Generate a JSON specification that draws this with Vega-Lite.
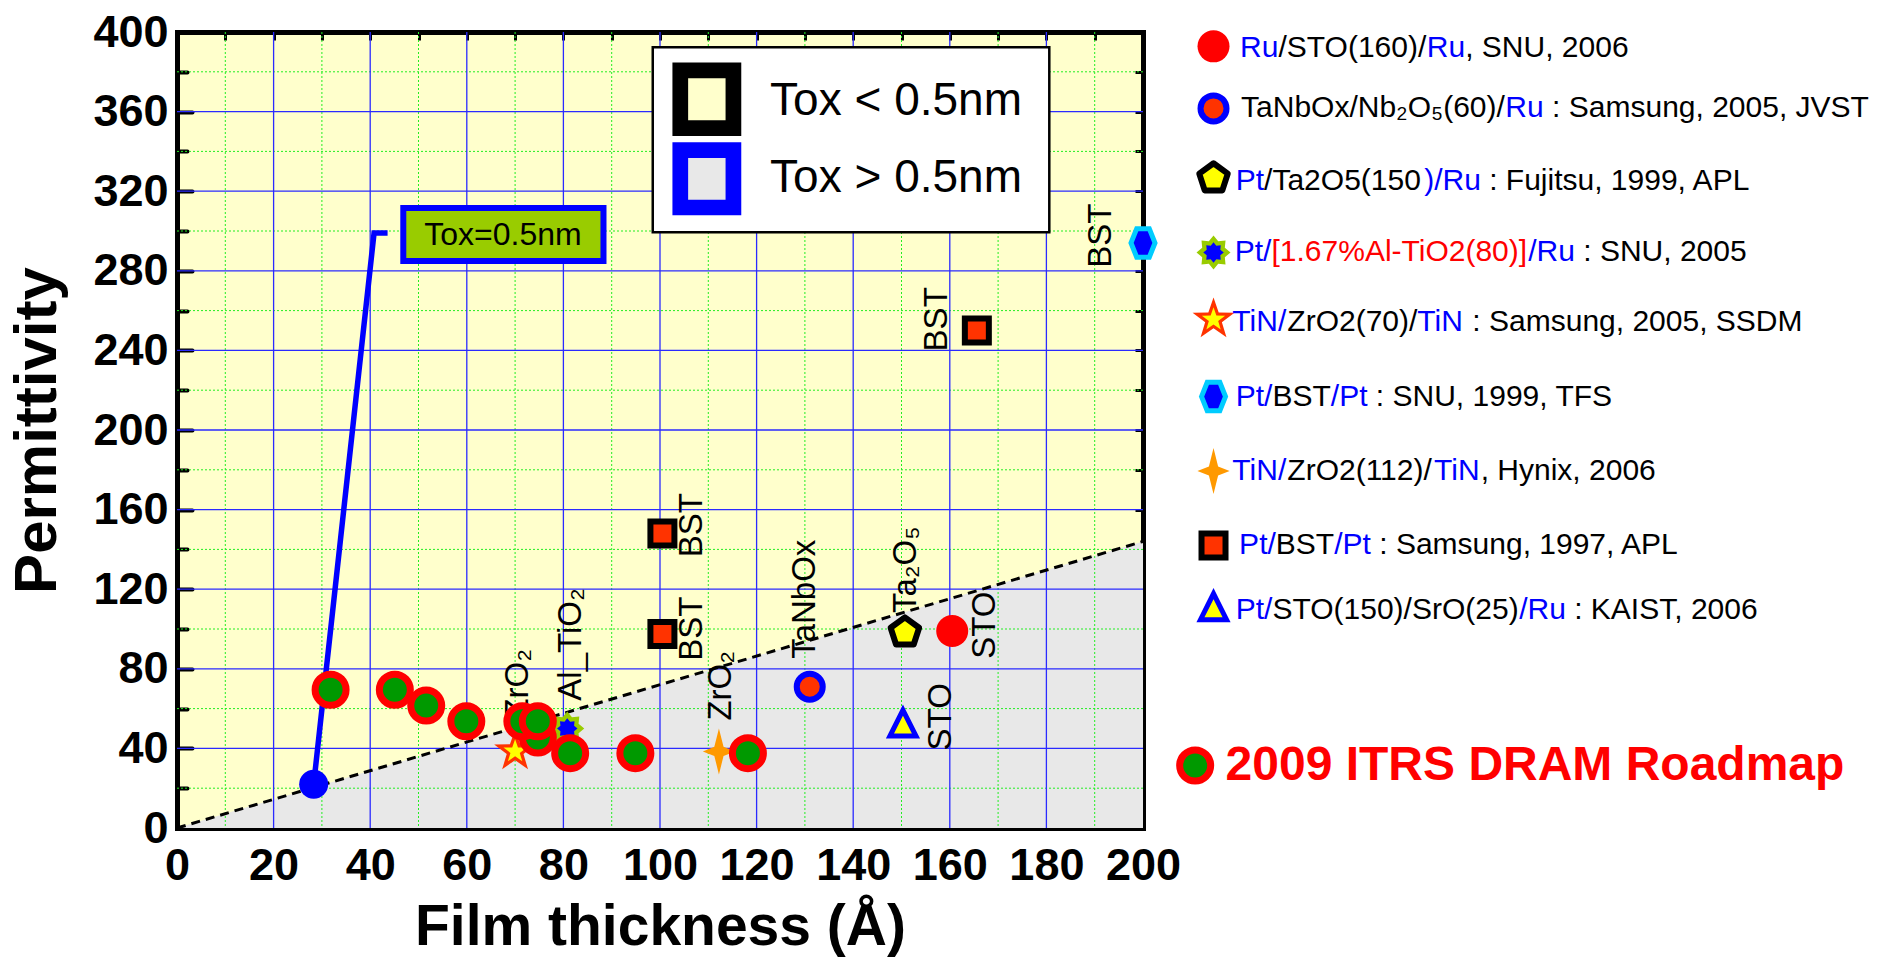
{
  "$schema": "https://vega.github.io/schema/vega-lite/v6.json",
  "width": 966,
  "height": 796,
  "autosize": {"type": "none"},
  "padding": {"left": 177, "top": 32, "right": 737, "bottom": 138},
  "background": "#FFFFFF",
  "config": {"view": {"fill": "#FFFFCC", "stroke": null}, "axis": {"grid": false}},
  "resolve": {"axis": {"x": "independent", "y": "independent"}},
  "datasets": {
    "boundary": [{"x": 0, "y": 0}, {"x": 200, "y": 144}],
    "grid_vmaj": [{"x": 20}, {"x": 40}, {"x": 60}, {"x": 80}, {"x": 100}, {"x": 120}, {"x": 140}, {"x": 160}, {"x": 180}],
    "grid_vmin": [{"x": 10}, {"x": 30}, {"x": 50}, {"x": 70}, {"x": 90}, {"x": 110}, {"x": 130}, {"x": 150}, {"x": 170}, {"x": 190}],
    "grid_hmaj": [{"y": 40}, {"y": 80}, {"y": 120}, {"y": 160}, {"y": 200}, {"y": 240}, {"y": 280}, {"y": 320}, {"y": 360}],
    "grid_hmin": [{"y": 20}, {"y": 60}, {"y": 100}, {"y": 140}, {"y": 180}, {"y": 220}, {"y": 260}, {"y": 300}, {"y": 340}, {"y": 380}],
    "toxline": [{"x": 28.3, "y": 22, "o": 1}, {"x": 40.8, "y": 299, "o": 2}, {"x": 43.6, "y": 299, "o": 3}],
    "toxbox": [{"x": 46.85, "x2": 88.3, "y": 284.9, "y2": 311.6, "tx": 67.5, "ty": 298.2, "t": "Tox=0.5nm"}],
    "keybox": [{"x": 98.5, "x2": 180.6, "y": 299.4, "y2": 392.3}],
    "keys": [
      {"k": "lt", "x": 104.2, "x2": 115.2, "y": 351.7, "y2": 380.7, "tx": 122.8, "ty": 365.2, "t": "Tox < 0.5nm"},
      {"k": "gt", "x": 104.2, "x2": 115.2, "y": 311.8, "y2": 340.6, "tx": 122.8, "ty": 326.6, "t": "Tox > 0.5nm"}
    ],
    "pts": [
      {"s": "bst_sam", "x": 100.5, "y": 148},
      {"s": "bst_sam", "x": 100.5, "y": 97.5},
      {"s": "bst_sam", "x": 165.6, "y": 250},
      {"s": "bst_sam", "x": 214.6, "y": 142},
      {"s": "bst_snu", "x": 200, "y": 294},
      {"s": "bst_snu", "x": 214.6, "y": 216.8},
      {"s": "ta2o5", "x": 150.7, "y": 98.3},
      {"s": "ta2o5", "x": 214.6, "y": 326.5},
      {"s": "sto_kaist", "x": 150.3, "y": 52},
      {"s": "sto_kaist", "x": 214.6, "y": 110.5},
      {"s": "tanbox", "x": 131, "y": 71},
      {"s": "tanbox", "x": 214.6, "y": 361.6},
      {"s": "ru_sto", "x": 160.5, "y": 99},
      {"s": "ru_sto", "x": 214.6, "y": 392.8},
      {"s": "zro2_112", "x": 112.2, "y": 38.5},
      {"s": "zro2_112", "x": 214.6, "y": 179.4},
      {"s": "zro2_70", "x": 70, "y": 38.5},
      {"s": "zro2_70", "x": 214.6, "y": 255.5},
      {"s": "altio2", "x": 80.8, "y": 50},
      {"s": "altio2", "x": 214.6, "y": 289.2},
      {"s": "blue_dot", "x": 28.3, "y": 22},
      {"s": "roadmap", "x": 31.8, "y": 69.5},
      {"s": "roadmap", "x": 45.1, "y": 69.5},
      {"s": "roadmap", "x": 51.6, "y": 61.5},
      {"s": "roadmap", "x": 59.9, "y": 53.6},
      {"s": "roadmap", "x": 74.7, "y": 45.5},
      {"s": "roadmap", "x": 71.5, "y": 53.6},
      {"s": "roadmap", "x": 74.7, "y": 53.6},
      {"s": "roadmap", "x": 81.4, "y": 37.6},
      {"s": "roadmap", "x": 94.9, "y": 37.6},
      {"s": "roadmap", "x": 118.2, "y": 37.6},
      {"s": "roadmap", "x": 210.8, "y": 31.4}
    ],
    "labels": [
      {"x": 70.7, "y": 55, "t": "ZrO₂"},
      {"x": 81.5, "y": 64, "t": "Al_TiO₂"},
      {"x": 112.6, "y": 54, "t": "ZrO₂"},
      {"x": 130, "y": 85, "t": "TaNbOx"},
      {"x": 151, "y": 108, "t": "Ta₂O₅"},
      {"x": 167.2, "y": 85, "t": "STO"},
      {"x": 158.2, "y": 39, "t": "STO"},
      {"x": 106.6, "y": 136, "t": "BST"},
      {"x": 106.6, "y": 84, "t": "BST"},
      {"x": 157.4, "y": 239.5, "t": "BST"},
      {"x": 191.3, "y": 281.5, "t": "BST"}
    ],
    "legtext": [
      {"x": 220.1, "y": 392.2, "t": "Ru", "c": "b"},
      {"x": 228.04, "y": 392.2, "t": "/STO(160)/", "c": "k"},
      {"x": 258.76, "y": 392.2, "t": "Ru", "c": "b"},
      {"x": 266.7, "y": 392.2, "t": ", SNU, 2006", "c": "k"},
      {"x": 220.3, "y": 361.6, "t": "TaNbOx/Nb₂O₅(60)/", "c": "k"},
      {"x": 275.0, "y": 361.6, "t": "Ru", "c": "b"},
      {"x": 284.7, "y": 361.6, "t": ": Samsung, 2005, JVST", "c": "k"},
      {"x": 219.2, "y": 324.9, "t": "Pt", "c": "b"},
      {"x": 225.07, "y": 324.9, "t": "/Ta2O5(150", "c": "k"},
      {"x": 258.21, "y": 324.9, "t": ")/Ru", "c": "b"},
      {"x": 271.67, "y": 324.9, "t": ": Fujitsu, 1999, APL", "c": "k"},
      {"x": 219.0, "y": 289.2, "t": "Pt/", "c": "b"},
      {"x": 226.6, "y": 289.2, "t": "[1.67%Al-TiO2(80)]", "c": "r"},
      {"x": 279.75, "y": 289.2, "t": "/Ru", "c": "b"},
      {"x": 291.14, "y": 289.2, "t": ": SNU, 2005", "c": "k"},
      {"x": 218.5, "y": 254.5, "t": "TiN/", "c": "b"},
      {"x": 229.88, "y": 254.5, "t": "ZrO2(70)/", "c": "k"},
      {"x": 256.8, "y": 254.5, "t": "TiN", "c": "b"},
      {"x": 268.19, "y": 254.5, "t": ": Samsung, 2005, SSDM", "c": "k"},
      {"x": 219.2, "y": 216.8, "t": "Pt/", "c": "b"},
      {"x": 226.8, "y": 216.8, "t": "BST", "c": "k"},
      {"x": 238.88, "y": 216.8, "t": "/Pt", "c": "b"},
      {"x": 248.21, "y": 216.8, "t": ": SNU, 1999, TFS", "c": "k"},
      {"x": 218.5, "y": 179.4, "t": "TiN/", "c": "b"},
      {"x": 229.88, "y": 179.4, "t": "ZrO2(112)/", "c": "k"},
      {"x": 260.25, "y": 179.4, "t": "TiN", "c": "b"},
      {"x": 269.91, "y": 179.4, "t": ", Hynix, 2006", "c": "k"},
      {"x": 219.9, "y": 142.0, "t": "Pt/", "c": "b"},
      {"x": 227.5, "y": 142.0, "t": "BST", "c": "k"},
      {"x": 239.58, "y": 142.0, "t": "/Pt", "c": "b"},
      {"x": 248.91, "y": 142.0, "t": ": Samsung, 1997, APL", "c": "k"},
      {"x": 219.2, "y": 109.3, "t": "Pt/", "c": "b"},
      {"x": 226.8, "y": 109.3, "t": "STO(150)/SrO(25)", "c": "k"},
      {"x": 277.88, "y": 109.3, "t": "/Ru", "c": "b"},
      {"x": 289.27, "y": 109.3, "t": ": KAIST, 2006", "c": "k"}
    ],
    "itrs": [{"x": 217.1, "y": 31.4, "t": "2009 ITRS DRAM Roadmap"}]
  },
  "layer": [
    {
      "data": {"name": "boundary"},
      "mark": {"type": "area", "fill": "#E8E8E8", "opacity": 1},
      "encoding": {
        "x": {"field": "x", "type": "quantitative", "scale": {"domain": [0, 200], "nice": false, "zero": false},
          "axis": {"orient": "bottom", "values": [10, 30, 50, 70, 90, 110, 130, 150, 170, 190], "labels": false, "ticks": true, "tickSize": -9, "tickWidth": 4, "tickColor": "#000000", "tickCap": "round", "domain": false, "title": null, "grid": false}},
        "y": {"field": "y", "type": "quantitative", "scale": {"domain": [0, 400], "nice": false, "zero": false}, "axis": null}
      }
    },
    {
      "data": {"name": "grid_vmin"},
      "mark": {"type": "rule", "stroke": "#22EE22", "strokeWidth": 1, "strokeDash": [2, 2]},
      "encoding": {
        "x": {"field": "x", "type": "quantitative", "scale": {"domain": [0, 200], "nice": false, "zero": false},
          "axis": {"orient": "top", "values": [0, 10, 20, 30, 40, 50, 60, 70, 80, 90, 100, 110, 120, 130, 140, 150, 160, 170, 180, 190, 200], "labels": false, "ticks": true, "tickSize": -8, "tickWidth": 3, "tickColor": "#000000", "domain": true, "domainColor": "#000000", "domainWidth": 5, "domainCap": "square", "title": null, "grid": false}}
      }
    },
    {
      "data": {"name": "grid_hmin"},
      "mark": {"type": "rule", "stroke": "#22EE22", "strokeWidth": 1, "strokeDash": [2, 2]},
      "encoding": {
        "y": {"field": "y", "type": "quantitative", "scale": {"domain": [0, 400], "nice": false, "zero": false},
          "axis": {"orient": "left", "values": [20, 60, 100, 140, 180, 220, 260, 300, 340, 380], "labels": false, "ticks": true, "tickSize": -10, "tickWidth": 4, "tickColor": "#000000", "tickCap": "round", "domain": false, "title": null, "grid": false}}
      }
    },
    {
      "data": {"name": "grid_vmaj"},
      "mark": {"type": "rule", "stroke": "#2A2AFF", "strokeWidth": 1.3},
      "encoding": {
        "x": {"field": "x", "type": "quantitative", "scale": {"domain": [0, 200], "nice": false, "zero": false},
          "axis": {"orient": "bottom", "values": [0, 20, 40, 60, 80, 100, 120, 140, 160, 180, 200],
            "labelFont": "Liberation Sans", "labelFontSize": 45, "labelFontWeight": "bold", "labelColor": "#000000", "labelPadding": 31,
            "labelFlush": false, "labelOverlap": false, "labelBound": false,
            "ticks": true, "tickSize": -16, "tickWidth": 4, "tickColor": "#000000", "tickCap": "round",
            "domain": true, "domainColor": "#000000", "domainWidth": 5, "domainCap": "square",
            "title": "Film thickness (Å)", "titleFont": "Liberation Sans", "titleFontSize": 57, "titleFontWeight": "bold", "titleColor": "#000000", "titlePadding": 11, "grid": false}}
      }
    },
    {
      "data": {"name": "grid_hmaj"},
      "mark": {"type": "rule", "stroke": "#2A2AFF", "strokeWidth": 1.3},
      "encoding": {
        "y": {"field": "y", "type": "quantitative", "scale": {"domain": [0, 400], "nice": false, "zero": false},
          "axis": {"orient": "left", "values": [0, 40, 80, 120, 160, 200, 240, 280, 320, 360, 400],
            "labelFont": "Liberation Sans", "labelFontSize": 45, "labelFontWeight": "bold", "labelColor": "#000000", "labelPadding": 24,
            "labelOverlap": false, "labelBound": false, "labelFlush": false,
            "ticks": true, "tickSize": -15, "tickWidth": 4, "tickColor": "#000000", "tickCap": "round",
            "domain": true, "domainColor": "#000000", "domainWidth": 5, "domainCap": "square",
            "title": "Permittivity", "titleFont": "Liberation Sans", "titleFontSize": 60, "titleFontWeight": "bold", "titleColor": "#000000", "titlePadding": 24, "grid": false}}
      }
    },
    {
      "data": {"name": "boundary"},
      "mark": {"type": "line", "stroke": "#000000", "strokeWidth": 3, "strokeDash": [9, 6]},
      "encoding": {
        "x": {"field": "x", "type": "quantitative", "scale": {"domain": [0, 200], "nice": false, "zero": false}, "axis": null},
        "y": {"field": "y", "type": "quantitative", "scale": {"domain": [0, 400], "nice": false, "zero": false},
          "axis": {"orient": "right", "values": [0, 20, 40, 60, 80, 100, 120, 140, 160, 180, 200, 220, 240, 260, 280, 300, 320, 340, 360, 380, 400], "labels": false, "ticks": true, "tickSize": -8, "tickWidth": 3, "tickColor": "#000000", "domain": true, "domainColor": "#000000", "domainWidth": 5, "domainCap": "square", "title": null, "grid": false}}
      }
    },
    {
      "data": {"name": "keybox"},
      "mark": {"type": "rect", "fill": "#FFFFFF", "stroke": "#000000", "strokeWidth": 2.5},
      "encoding": {
        "x": {"field": "x", "type": "quantitative", "scale": {"domain": [0, 200], "nice": false, "zero": false}, "axis": null},
        "x2": {"field": "x2"},
        "y": {"field": "y", "type": "quantitative", "scale": {"domain": [0, 400], "nice": false, "zero": false}, "axis": null},
        "y2": {"field": "y2"}
      }
    },
    {
      "data": {"name": "keys"},
      "mark": {"type": "rect", "strokeWidth": 15.7},
      "encoding": {
        "x": {"field": "x", "type": "quantitative", "scale": {"domain": [0, 200], "nice": false, "zero": false}, "axis": null},
        "x2": {"field": "x2"},
        "y": {"field": "y", "type": "quantitative", "scale": {"domain": [0, 400], "nice": false, "zero": false}, "axis": null},
        "y2": {"field": "y2"},
        "fill": {"field": "k", "type": "nominal", "scale": {"domain": ["lt", "gt"], "range": ["#FFFFCC", "#E8E8E8"]}, "legend": null},
        "stroke": {"field": "k", "type": "nominal", "scale": {"domain": ["lt", "gt"], "range": ["#000000", "#0000FF"]}, "legend": null}
      }
    },
    {
      "data": {"name": "keys"},
      "mark": {"type": "text", "font": "Liberation Sans", "fontSize": 46, "align": "left", "baseline": "middle", "fill": "#000000"},
      "encoding": {
        "x": {"field": "tx", "type": "quantitative", "scale": {"domain": [0, 200], "nice": false, "zero": false}, "axis": null},
        "y": {"field": "ty", "type": "quantitative", "scale": {"domain": [0, 400], "nice": false, "zero": false}, "axis": null},
        "text": {"field": "t"}
      }
    },
    {
      "data": {"name": "toxline"},
      "mark": {"type": "line", "stroke": "#0000FF", "strokeWidth": 5.5},
      "encoding": {
        "x": {"field": "x", "type": "quantitative", "scale": {"domain": [0, 200], "nice": false, "zero": false}, "axis": null},
        "y": {"field": "y", "type": "quantitative", "scale": {"domain": [0, 400], "nice": false, "zero": false}, "axis": null},
        "order": {"field": "o"}
      }
    },
    {
      "data": {"name": "toxbox"},
      "mark": {"type": "rect", "fill": "#99CC00", "stroke": "#0000FF", "strokeWidth": 6},
      "encoding": {
        "x": {"field": "x", "type": "quantitative", "scale": {"domain": [0, 200], "nice": false, "zero": false}, "axis": null},
        "x2": {"field": "x2"},
        "y": {"field": "y", "type": "quantitative", "scale": {"domain": [0, 400], "nice": false, "zero": false}, "axis": null},
        "y2": {"field": "y2"}
      }
    },
    {
      "data": {"name": "toxbox"},
      "mark": {"type": "text", "font": "Liberation Sans", "fontSize": 32, "align": "center", "baseline": "middle", "fill": "#000000"},
      "encoding": {
        "x": {"field": "tx", "type": "quantitative", "scale": {"domain": [0, 200], "nice": false, "zero": false}, "axis": null},
        "y": {"field": "ty", "type": "quantitative", "scale": {"domain": [0, 400], "nice": false, "zero": false}, "axis": null},
        "text": {"field": "t"}
      }
    },
    {
      "data": {"name": "labels"},
      "mark": {"type": "text", "font": "Liberation Sans", "fontSize": 33, "angle": 270, "align": "left", "baseline": "middle", "fill": "#000000"},
      "encoding": {
        "x": {"field": "x", "type": "quantitative", "scale": {"domain": [0, 200], "nice": false, "zero": false}, "axis": null},
        "y": {"field": "y", "type": "quantitative", "scale": {"domain": [0, 400], "nice": false, "zero": false}, "axis": null},
        "text": {"field": "t"}
      }
    },
    {
      "data": {"name": "pts"},
      "transform": [{"filter": "datum.s == 'bst_sam'"}],
      "mark": {"type": "point", "shape": "square", "filled": true, "fill": "#FF3300", "stroke": "#000000", "strokeWidth": 6, "size": 576, "opacity": 1},
      "encoding": {
        "x": {"field": "x", "type": "quantitative", "scale": {"domain": [0, 200], "nice": false, "zero": false}, "axis": null},
        "y": {"field": "y", "type": "quantitative", "scale": {"domain": [0, 400], "nice": false, "zero": false}, "axis": null}
      }
    },
    {
      "data": {"name": "pts"},
      "transform": [{"filter": "datum.s == 'bst_snu'"}],
      "mark": {"type": "point", "shape": "M-0.8,0L-0.42,-0.95L0.42,-0.95L0.8,0L0.42,0.95L-0.42,0.95Z", "filled": true, "fill": "#0000FF", "stroke": "#00CCFF", "strokeWidth": 5, "size": 900, "opacity": 1},
      "encoding": {
        "x": {"field": "x", "type": "quantitative", "scale": {"domain": [0, 200], "nice": false, "zero": false}, "axis": null},
        "y": {"field": "y", "type": "quantitative", "scale": {"domain": [0, 400], "nice": false, "zero": false}, "axis": null}
      }
    },
    {
      "data": {"name": "pts"},
      "transform": [{"filter": "datum.s == 'ta2o5'"}],
      "mark": {"type": "point", "shape": "M0,-1L0.951,-0.309L0.588,0.809L-0.588,0.809L-0.951,-0.309Z", "filled": true, "fill": "#FFFF00", "stroke": "#000000", "strokeWidth": 6, "strokeJoin": "round", "size": 900, "opacity": 1},
      "encoding": {
        "x": {"field": "x", "type": "quantitative", "scale": {"domain": [0, 200], "nice": false, "zero": false}, "axis": null},
        "y": {"field": "y", "type": "quantitative", "scale": {"domain": [0, 400], "nice": false, "zero": false}, "axis": null}
      }
    },
    {
      "data": {"name": "pts"},
      "transform": [{"filter": "datum.s == 'sto_kaist'"}],
      "mark": {"type": "point", "shape": "M0,-1L0.9,0.8L-0.9,0.8Z", "filled": true, "fill": "#FFFF00", "stroke": "#0000FF", "strokeWidth": 5, "size": 841, "opacity": 1},
      "encoding": {
        "x": {"field": "x", "type": "quantitative", "scale": {"domain": [0, 200], "nice": false, "zero": false}, "axis": null},
        "y": {"field": "y", "type": "quantitative", "scale": {"domain": [0, 400], "nice": false, "zero": false}, "axis": null}
      }
    },
    {
      "data": {"name": "pts"},
      "transform": [{"filter": "datum.s == 'tanbox'"}],
      "mark": {"type": "point", "shape": "circle", "filled": true, "fill": "#FF3300", "stroke": "#0000FF", "strokeWidth": 6, "size": 676, "opacity": 1},
      "encoding": {
        "x": {"field": "x", "type": "quantitative", "scale": {"domain": [0, 200], "nice": false, "zero": false}, "axis": null},
        "y": {"field": "y", "type": "quantitative", "scale": {"domain": [0, 400], "nice": false, "zero": false}, "axis": null}
      }
    },
    {
      "data": {"name": "pts"},
      "transform": [{"filter": "datum.s == 'ru_sto'"}],
      "mark": {"type": "point", "shape": "circle", "filled": true, "fill": "#FF0000", "strokeWidth": 0, "size": 1024, "opacity": 1},
      "encoding": {
        "x": {"field": "x", "type": "quantitative", "scale": {"domain": [0, 200], "nice": false, "zero": false}, "axis": null},
        "y": {"field": "y", "type": "quantitative", "scale": {"domain": [0, 400], "nice": false, "zero": false}, "axis": null}
      }
    },
    {
      "data": {"name": "pts"},
      "transform": [{"filter": "datum.s == 'zro2_112'"}],
      "mark": {"type": "point", "shape": "M0,-1L0.2,-0.2L0.7,0L0.2,0.2L0,1L-0.2,0.2L-0.7,0L-0.2,-0.2Z", "filled": true, "fill": "#FF9900", "strokeWidth": 0, "size": 2116, "opacity": 1},
      "encoding": {
        "x": {"field": "x", "type": "quantitative", "scale": {"domain": [0, 200], "nice": false, "zero": false}, "axis": null},
        "y": {"field": "y", "type": "quantitative", "scale": {"domain": [0, 400], "nice": false, "zero": false}, "axis": null}
      }
    },
    {
      "data": {"name": "pts"},
      "transform": [{"filter": "datum.s == 'zro2_70'"}],
      "mark": {"type": "point", "shape": "M0,-1L0.235,-0.324L0.951,-0.309L0.38,0.124L0.588,0.809L0,0.4L-0.588,0.809L-0.38,0.124L-0.951,-0.309L-0.235,-0.324Z", "filled": true, "fill": "#FF3300", "strokeWidth": 0, "size": 1936, "opacity": 1},
      "encoding": {
        "x": {"field": "x", "type": "quantitative", "scale": {"domain": [0, 200], "nice": false, "zero": false}, "axis": null},
        "y": {"field": "y", "type": "quantitative", "scale": {"domain": [0, 400], "nice": false, "zero": false}, "axis": null}
      }
    },
    {
      "data": {"name": "pts"},
      "transform": [{"filter": "datum.s == 'zro2_70'"}],
      "mark": {"type": "point", "shape": "M0,-1L0.235,-0.324L0.951,-0.309L0.38,0.124L0.588,0.809L0,0.4L-0.588,0.809L-0.38,0.124L-0.951,-0.309L-0.235,-0.324Z", "filled": true, "fill": "#FFFF00", "strokeWidth": 0, "size": 600, "opacity": 1},
      "encoding": {
        "x": {"field": "x", "type": "quantitative", "scale": {"domain": [0, 200], "nice": false, "zero": false}, "axis": null},
        "y": {"field": "y", "type": "quantitative", "scale": {"domain": [0, 400], "nice": false, "zero": false}, "axis": null}
      }
    },
    {
      "data": {"name": "pts"},
      "transform": [{"filter": "datum.s == 'altio2'"}],
      "mark": {"type": "point", "shape": "M0,-1L0.276,-0.665L0.707,-0.707L0.665,-0.276L1,0L0.665,0.276L0.707,0.707L0.276,0.665L0,1L-0.276,0.665L-0.707,0.707L-0.665,0.276L-1,0L-0.665,-0.276L-0.707,-0.707L-0.276,-0.665Z", "filled": true, "fill": "#99CC00", "strokeWidth": 0, "size": 1156, "opacity": 1},
      "encoding": {
        "x": {"field": "x", "type": "quantitative", "scale": {"domain": [0, 200], "nice": false, "zero": false}, "axis": null},
        "y": {"field": "y", "type": "quantitative", "scale": {"domain": [0, 400], "nice": false, "zero": false}, "axis": null}
      }
    },
    {
      "data": {"name": "pts"},
      "transform": [{"filter": "datum.s == 'altio2'"}],
      "mark": {"type": "point", "shape": "M0,-1L0.276,-0.665L0.707,-0.707L0.665,-0.276L1,0L0.665,0.276L0.707,0.707L0.276,0.665L0,1L-0.276,0.665L-0.707,0.707L-0.665,0.276L-1,0L-0.665,-0.276L-0.707,-0.707L-0.276,-0.665Z", "filled": true, "fill": "#0000FF", "strokeWidth": 0, "size": 420, "opacity": 1},
      "encoding": {
        "x": {"field": "x", "type": "quantitative", "scale": {"domain": [0, 200], "nice": false, "zero": false}, "axis": null},
        "y": {"field": "y", "type": "quantitative", "scale": {"domain": [0, 400], "nice": false, "zero": false}, "axis": null}
      }
    },
    {
      "data": {"name": "pts"},
      "transform": [{"filter": "datum.s == 'blue_dot'"}],
      "mark": {"type": "point", "shape": "circle", "filled": true, "fill": "#0000FF", "strokeWidth": 0, "size": 841, "opacity": 1},
      "encoding": {
        "x": {"field": "x", "type": "quantitative", "scale": {"domain": [0, 200], "nice": false, "zero": false}, "axis": null},
        "y": {"field": "y", "type": "quantitative", "scale": {"domain": [0, 400], "nice": false, "zero": false}, "axis": null}
      }
    },
    {
      "data": {"name": "pts"},
      "transform": [{"filter": "datum.s == 'roadmap'"}],
      "mark": {"type": "point", "shape": "circle", "filled": true, "fill": "#009900", "stroke": "#FF0000", "strokeWidth": 7, "size": 961, "opacity": 1},
      "encoding": {
        "x": {"field": "x", "type": "quantitative", "scale": {"domain": [0, 200], "nice": false, "zero": false}, "axis": null},
        "y": {"field": "y", "type": "quantitative", "scale": {"domain": [0, 400], "nice": false, "zero": false}, "axis": null}
      }
    },
    {
      "data": {"name": "legtext"},
      "mark": {"type": "text", "font": "Liberation Sans", "fontSize": 30, "align": "left", "baseline": "middle"},
      "encoding": {
        "x": {"field": "x", "type": "quantitative", "scale": {"domain": [0, 200], "nice": false, "zero": false}, "axis": null},
        "y": {"field": "y", "type": "quantitative", "scale": {"domain": [0, 400], "nice": false, "zero": false}, "axis": null},
        "text": {"field": "t"},
        "color": {"field": "c", "type": "nominal", "scale": {"domain": ["k", "b", "r"], "range": ["#000000", "#0000FF", "#FF0000"]}, "legend": null}
      }
    },
    {
      "data": {"name": "itrs"},
      "mark": {"type": "text", "font": "Liberation Sans", "fontSize": 48, "fontWeight": "bold", "align": "left", "baseline": "middle", "fill": "#FF0000"},
      "encoding": {
        "x": {"field": "x", "type": "quantitative", "scale": {"domain": [0, 200], "nice": false, "zero": false}, "axis": null},
        "y": {"field": "y", "type": "quantitative", "scale": {"domain": [0, 400], "nice": false, "zero": false}, "axis": null},
        "text": {"field": "t"}
      }
    }
  ]
}
